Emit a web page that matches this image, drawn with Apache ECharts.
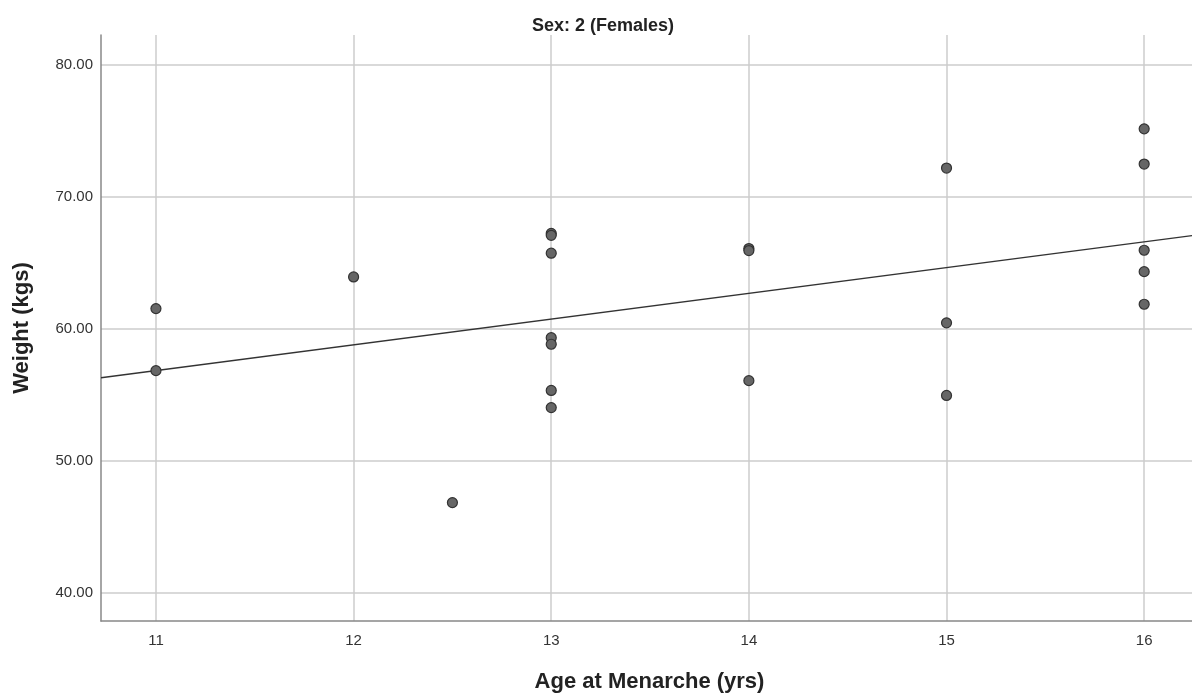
<!DOCTYPE html>
<html><head><meta charset="utf-8">
<script src="https://cdn.jsdelivr.net/npm/echarts@6/dist/echarts.min.js"></script>
<style>html,body{margin:0;padding:0;background:#fff}#c{width:1192px;height:698px}</style>
</head><body><div id="c"></div>
<script>
const ageValues = [11, 11, 12, 12.5, 13, 13, 13, 13, 13, 13, 13, 14, 14, 14, 15, 15, 15, 16, 16, 16, 16, 16];
const weightValues = [61.5, 56.8, 63.9, 46.8, 67.2, 67.05, 65.7, 59.3, 58.8, 55.3, 54.0, 66.05, 65.9, 56.04, 72.15, 60.42, 54.92, 75.12, 72.45, 65.92, 64.3, 61.83];
const fitLineX = [10.722, 16.242];
const fitLineY = [56.26, 67.03];
const xTicks = [11, 12, 13, 14, 15, 16];
const yTicks = [40, 50, 60, 70, 80];

const chart = echarts.init(document.getElementById('c'));
const font = 'Liberation Sans, Arial, sans-serif';
chart.setOption({
  animation: false,
  title: {
    text: 'Sex: 2 (Females)', left: 598, top: 12, textAlign: 'center',
    textStyle: {fontFamily: font, fontSize: 18, fontWeight: 'bold', color: '#222'}
  },
  grid: {left: 101, top: 35, right: 0, bottom: 75},
  xAxis: {
    type: 'value', min: 10.722, max: 16.242,
    name: 'Age at Menarche (yrs)', nameLocation: 'middle', nameGap: 50,
    nameTextStyle: {fontFamily: font, fontSize: 22, fontWeight: 'bold', color: '#222', padding: [0, 0, 0, 6]},
    axisLine: {show: true, onZero: false, lineStyle: {color: '#888', width: 1.5}},
    axisTick: {show: false, customValues: xTicks},
    axisLabel: {customValues: xTicks, fontFamily: font, fontSize: 15, color: '#333', margin: 12},
    splitLine: {show: true, lineStyle: {color: '#cdcdcd', width: 1.5}}
  },
  yAxis: {
    type: 'value', min: 37.83, max: 82.23,
    name: 'Weight (kgs)', nameLocation: 'middle', nameGap: 68, nameRotate: 90,
    nameTextStyle: {fontFamily: font, fontSize: 22, fontWeight: 'bold', color: '#222'},
    axisLine: {show: true, onZero: false, lineStyle: {color: '#888', width: 1.5}},
    axisTick: {show: false, customValues: yTicks},
    axisLabel: {customValues: yTicks, fontFamily: font, fontSize: 15, color: '#333', margin: 8,
      formatter: v => v.toFixed(2)},
    splitLine: {show: true, lineStyle: {color: '#cdcdcd', width: 1.5}}
  },
  series: [
    {
      type: 'line', data: fitLineX.map((x, i) => [x, fitLineY[i]]),
      showSymbol: false, lineStyle: {color: '#333', width: 1.3}, z: 3
    },
    {
      type: 'scatter', data: ageValues.map((x, i) => [x, weightValues[i]]),
      symbol: 'circle', symbolSize: 10,
      itemStyle: {color: '#666', borderColor: '#333', borderWidth: 1.2, opacity: 1}, z: 4
    }
  ]
});
</script></body></html>
